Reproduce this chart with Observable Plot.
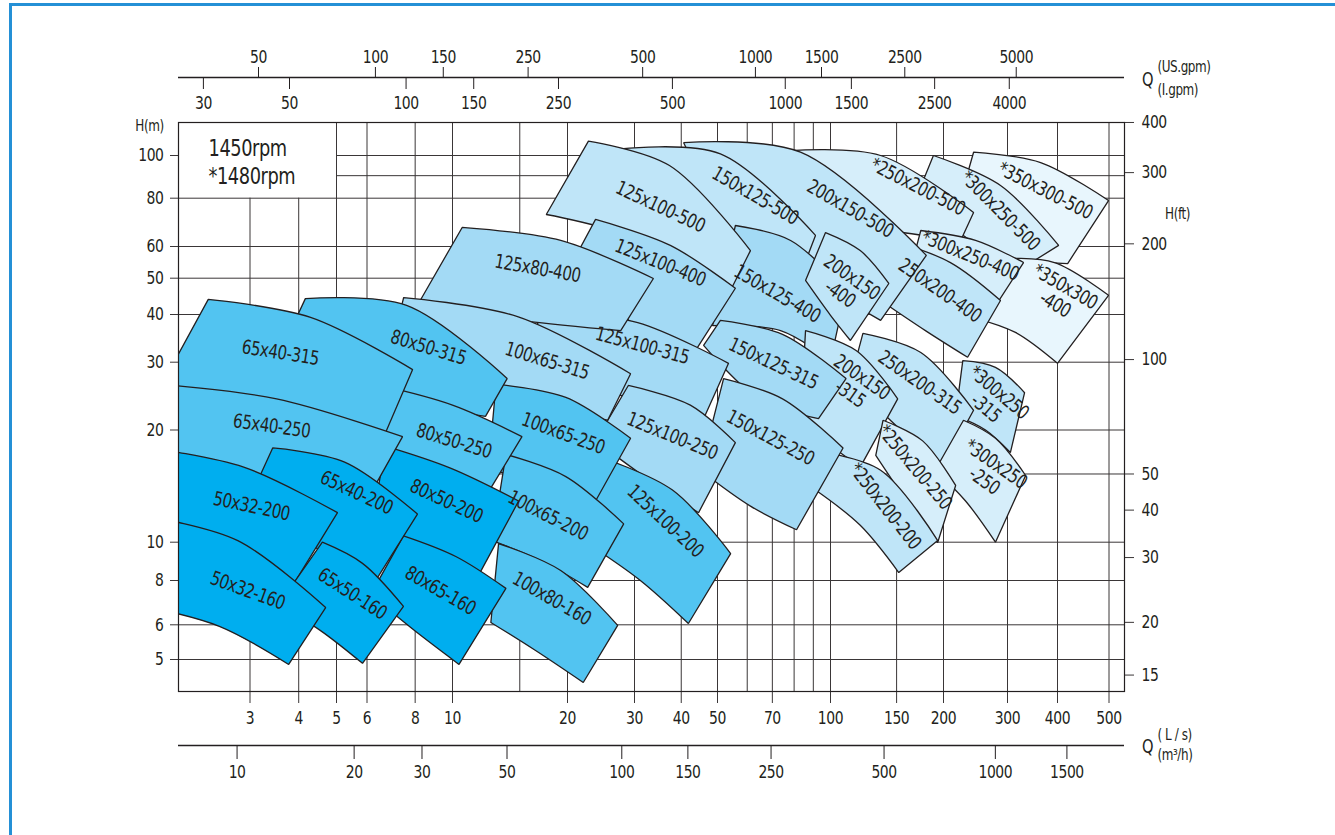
<!DOCTYPE html>
<html><head><meta charset="utf-8">
<script src="https://cdn.jsdelivr.net/npm/d3@7"></script>
<script src="https://cdn.jsdelivr.net/npm/@observablehq/plot@0.6"></script>
<style>
html,body{margin:0;padding:0;background:#fff;overflow:hidden;}
#wrap{position:relative;width:1335px;height:835px;}
#chart{position:absolute;left:0;top:0;}
#border{position:absolute;left:9px;top:3px;width:1400px;height:900px;border:3px solid #2490d6;box-sizing:border-box;pointer-events:none;z-index:2;}
</style></head><body><div id="wrap"><div id="chart"></div><div id="border"></div></div>
<script>
// ---------------- data (Q in L/s, H in m) ----------------
const pumpModels = ["*350x300-500","*300x250-500","*350x300-400","*250x200-500","*300x250-400","250x200-400","200x150-500","*300x250-315","150x125-500","200x150-400","250x200-315","*300x250-250","150x125-400","200x150-315","125x100-500","*250x200-250","150x125-315","125x100-400","*250x200-200","150x125-250","125x100-315","125x80-400","125x100-250","100x65-315","125x100-200","100x65-250","80x50-315","100x65-200","80x50-250","100x80-160","80x50-200","80x65-160","65x40-315","65x40-250","65x40-200","50x32-200","65x50-160","50x32-160"];
const twoLineModels = ["*350x300-400","*300x250-315","200x150-400","*300x250-250","200x150-315"];
const pumpTone = [5,4,5,4,4,3,3,3,3,3,3,4,2,3,3,4,2,2,3,2,2,2,2,2,1,1,1,1,1,1,0,0,1,1,0,0,0,0];
// upper curve, left to right
const pumpTop = [
 [[242,102],[363,96.4],[499,78.9]],
 [[188,100],[287,85.5],[402,60.4]],
 [[287,56.0],[393,54.7],[499,45.0]],
 [[78.3,103],[136,100],[242,73.5]],
 [[174,66.0],[245,62.2],[329,54.7]],
 [[152,61.4],[209,54.7],[287,43.6]],
 [[40.6,108],[83.2,102],[180,57.0]],
 [[226,30.3],[278,29.1],[331,25.0]],
 [[27.6,104],[50.9,101],[91.2,64.1]],
 [[97.0,65.2],[120,58.6],[143,48.4]],
 [[122,35.7],[174,31.8],[242,22.5]],
 [[227,21.2],[278,19.0],[333,15.1]],
 [[55.8,68.0],[78.3,62.2],[110,46.4]],
 [[85.8,36.3],[117,32.2],[151,24.1]],
 [[22.7,109],[37.2,94.9],[61.2,58.6]],
 [[138,21.2],[176,18.7],[216,14.2]],
 [[50.9,38.6],[74.5,35.5],[110,27.2]],
 [[23.7,70.5],[37.4,60.4],[55.8,47.0]],
 [[91.2,17.6],[136,15.6],[193,10.1]],
 [[51.9,27.2],[74.5,24.1],[108,17.9]],
 [[17.5,41.0],[30.6,38.1],[53.5,29.8]],
 [[10.6,67.2],[19.2,62.2],[33.7,49.9]],
 [[28.9,26.1],[42.3,23.2],[55.8,18.5]],
 [[7.47,44.4],[14.8,39.5],[29.3,28.0]],
 [[24.1,17.0],[37.9,13.8],[54.2,9.36]],
 [[13.0,26.3],[19.8,24.3],[29.3,19.0]],
 [[4.16,44.1],[7.60,42.3],[13.9,27.2]],
 [[13.8,17.2],[19.8,15.0],[28.1,11.2]],
 [[6.50,26.1],[10.0,23.2],[15.2,19.2]],
 [[13.2,9.92],[19.2,8.48],[27.1,5.98]],
 [[6.70,18.1],[9.88,15.8],[14.9,12.9]],
 [[7.46,10.4],[10.2,9.20],[13.8,7.60]],
 [[2.34,43.9],[4.29,39.3],[7.88,28.7]],
 [[1.66,26.4],[3.51,24.1],[7.42,19.2]],
 [[3.43,17.9],[5.25,16.4],[8.11,11.9]],
 [[1.66,17.9],[2.89,15.9],[5.03,12.0]],
 [[4.60,10.0],[5.84,8.84],[7.46,6.76]],
 [[1.66,11.7],[2.79,10.1],[4.69,6.71]]
];
// lower curve, right to left
const pumpBottom = [
 [[418,54.4],[305,57.0],[216,72.2]],
 [[314,51.7],[237,62.2],[168,78.9]],
 [[400,29.8],[314,35.9],[245,39.1]],
 [[223,62.2],[145,66.0],[94.1,72.2]],
 [[282,43.1],[216,49.3],[163,52.3]],
 [[233,30.9],[179,36.3],[136,43.6]],
 [[136,38.6],[83.2,50.8],[54.2,62.2]],
 [[305,17.4],[261,20.0],[216,21.8]],
 [[78.3,43.6],[50.9,53.8],[31.1,66.0]],
 [[113,34.2],[100,39.8],[85.8,49.3]],
 [[200,16.1],[154,20.0],[113,26.9]],
 [[278,10.0],[230,12.9],[190,15.6]],
 [[100,30.3],[73.6,36.3],[48.5,37.4]],
 [[120,15.9],[100,18.2],[83.2,21.2]],
 [[52.5,43.6],[31.1,62.2],[17.6,72.6]],
 [[193,9.98],[163,12.5],[132,17.1]],
 [[92.9,21.4],[65.1,23.9],[45.9,33.2]],
 [[43.7,32.2],[29.6,38.1],[20.4,53.8]],
 [[152,8.38],[120,11.1],[91.2,13.8]],
 [[81.2,10.8],[61.2,12.5],[45.0,15.6]],
 [[45.9,21.4],[27.6,24.6],[16.0,35.2]],
 [[27.6,36.3],[15.1,38.6],[8.16,42.8]],
 [[44.5,12.0],[33.1,14.6],[23.7,18.7]],
 [[25.5,21.2],[13.4,25.3],[7.11,36.3]],
 [[41.8,6.05],[31.1,8.0],[23.0,9.81]],
 [[23.6,12.8],[17.0,14.6],[12.4,15.6]],
 [[12.2,21.7],[6.82,25.0],[3.81,36.3]],
 [[22.6,7.65],[17.0,8.99],[12.7,10.1]],
 [[12.4,13.6],[9.31,15.6],[6.50,18.2]],
 [[22.0,4.38],[16.5,5.24],[12.6,6.09]],
 [[11.7,8.24],[8.51,9.26],[6.20,11.4]],
 [[10.4,4.86],[7.97,5.82],[6.13,7.30]],
 [[6.62,19.1],[3.43,23.6],[1.75,25.6]],
 [[6.20,13.8],[3.21,14.8],[1.66,17.1]],
 [[6.20,7.74],[4.36,9.81],[3.10,14.2]],
 [[3.86,7.74],[2.53,10.1],[1.66,11.3]],
 [[5.84,4.89],[4.55,5.82],[3.55,6.84]],
 [[3.77,4.86],[2.50,5.95],[1.66,6.71]]
];
const pumpLabelAt = [
 [373,83.3],[287,74.3],[405,45.0],[171,85.0],[237,57.0],[196,46.4],[113,75.2],[273,23.9],[63.1,81.1],[110,47.8],
 [173,26.6],[269,15.4],[72.2,45.5],[117,26.1],[35.2,76.1],[168,15.9],[70.5,29.8],[35.2,54.7],[140,12.5],[69.2,19.1],
 [31.5,33.2],[16.7,52.9],[37.9,19.3],[17.7,30.3],[36.3,11.4],[19.5,19.6],[8.66,32.8],[17.8,11.8],[10.1,18.7],[18.2,7.12],
 [9.65,12.9],[9.31,7.5],[3.59,31.8],[3.41,20.5],[5.64,13.6],[3.03,12.5],[5.50,7.35],[2.96,7.5]
];
const pumpLabelAngle = [27,45,30,27,22,35,30,40,30,35,35,35,30,35,25,50,25,22,52,28,15,10,22,17,43,20,17,27,17,30,25,30,9,8,25,12,33,20];
// which area lies on top where two overlap: listed from back to front
const paintOrder = ["*350x300-500","*300x250-500","*350x300-400","*250x200-500","*300x250-400","250x200-400","200x150-500","*300x250-315","150x125-500","150x125-400","200x150-400","250x200-315","*300x250-250","200x150-315","125x100-500","*250x200-250","150x125-315","125x100-400","*250x200-200","150x125-250","125x100-315","125x80-400","125x100-250","100x65-315","125x100-200","100x65-250","80x50-315","100x65-200","80x50-250","100x80-160","80x50-200","80x65-160","65x40-315","65x40-250","65x40-200","50x32-200","65x50-160","50x32-160"];

const lsTicks  = [3,4,5,6,8,10,20,30,40,50,70,100,150,200,300,400,500];
const m3hTicks = [10,20,30,50,100,150,250,500,1000,1500];
const usGpmTicks = [50,100,150,250,500,1000,1500,2500,5000];
const iGpmTicks  = [30,50,100,150,250,500,1000,1500,2500,4000];
const hTicks  = [5,6,8,10,20,30,40,50,60,80,100];
const ftTicks = [15,20,30,40,50,100,200,300,400];
const gridQLong  = [5,6,8,10,20,30,40,50,70,100,150,200,300,400,500];
const gridQPlain = [15,60,80,90];
const gridQBelowBox = [3,4];
const gridHFull  = [5,6,8,10,15.24,20,30,40,50,60,80];
const gridHRight = [90,100];
const speedText = ["1450rpm\n*1480rpm"];
const qMin = 1.96, qMax = 545, hMin = 4.16, hMax = 121.9;
const boxQ = 5, boxH = 80;

// unit conversions
const US_GPM = 15.850, I_GPM = 13.198, M3H = 3.6, FT = 0.3048;

// ---------------- styling ----------------
const FONT = "'Liberation Sans Narrow','Arial Narrow','DejaVu Sans Condensed',sans-serif";
const tones = ["#00aeef","#52c4f1","#a3daf5","#bfe5f8","#d6eefa","#e8f6fd"];
const INK = "#231f20", GRID = "#3a3637";
const SQUEEZE = 0.86; // narrow lettering like the printed chart

// scale calibration (the printed grid is not perfectly logarithmic)
const xCalQ  = [qMin, 3, 5, 10, 20, 30, 50, 100, 200, 300, 400, 500, qMax];
const xCalPx = [178, 249.5, 336, 452, 567, 634, 717, 830, 943, 1007, 1057, 1108.5, 1124];
const yCalH  = [hMax, 100, 80, 60, 50, 40, 30, 20, 10, 8, 6, 5, hMin];
const yCalPx = [122, 155, 197.7, 246, 277.7, 314, 361.7, 429.5, 541.7, 580, 624.3, 659, 691];

// outline: catmull-rom along the upper and lower curves, straight sides
function pumpOutline(context) {
  let pts = [];
  return {
    areaStart() {}, areaEnd() {},
    lineStart() { pts = []; },
    point(x, y) { pts.push([+x, +y]); },
    lineEnd() {
      const n = pts.length >> 1;
      const c = d3.curveCatmullRom.alpha(0.5)(context);
      c.areaStart();
      c.lineStart(); pts.slice(0, n).forEach(p => c.point(p[0], p[1])); c.lineEnd();
      c.lineStart(); pts.slice(n).forEach(p => c.point(p[0], p[1])); c.lineEnd();
      c.areaEnd();
    }
  };
}

const outlineRows = [];
paintOrder.forEach(m => {
  const i = pumpModels.indexOf(m);
  for (const [q, h] of pumpTop[i].concat(pumpBottom[i])) outlineRows.push({id: i, q, h, tone: tones[pumpTone[i]]});
});
const labelRows = pumpModels.map((m, i) => ({
  q: pumpLabelAt[i][0], h: pumpLabelAt[i][1], angle: pumpLabelAngle[i],
  text: twoLineModels.includes(m) ? m.replace(/-(\d+)$/, "\n-$1") : m
}));

const T = (data, o) => Plot.text(data, {lineAnchor: "middle", textAnchor: "middle", fill: INK, ...o});

const plot = Plot.plot({
  width: 1335, height: 835,
  marginTop: 122, marginRight: 211, marginBottom: 144, marginLeft: 178,
  x: {type: "log", domain: xCalQ, range: xCalPx, axis: null},
  y: {type: "log", domain: yCalH, range: yCalPx, axis: null},
  color: {type: "identity"},
  style: {fontFamily: FONT, fontSize: "18px", color: INK, background: "transparent", letterSpacing: "-0.5px"},
  marks: [
    // grid
    Plot.ruleX(gridQLong, {x: d => d, stroke: GRID, strokeWidth: 1, insetBottom: -12}),
    Plot.ruleX(gridQPlain, {x: d => d, stroke: GRID, strokeWidth: 1}),
    Plot.ruleX(gridQBelowBox, {x: d => d, y1: boxH, y2: hMin, stroke: GRID, strokeWidth: 1, insetBottom: -12}),
    Plot.ruleY(gridHFull, {y: d => d, stroke: GRID, strokeWidth: 1}),
    Plot.ruleY(gridHRight, {y: d => d, x1: boxQ, x2: qMax, stroke: GRID, strokeWidth: 1}),
    Plot.ruleY(hTicks, {y: d => d, x1: qMin, x2: qMin, insetLeft: -8, stroke: GRID, strokeWidth: 1}),
    Plot.ruleY(ftTicks, {y: d => d * FT, x1: qMax, x2: qMax, insetRight: -10, stroke: GRID, strokeWidth: 1}),
    // pump areas
    Plot.line(outlineRows, {x: "q", y: "h", z: "id", fill: "tone", stroke: INK, strokeWidth: 1.3, strokeLinejoin: "miter", curve: pumpOutline, clip: true}),
    Plot.text(labelRows, {x: "q", y: "h", text: "text", rotate: "angle", fontSize: 19.5, lineHeight: 1.05, fill: INK}),
    Plot.frame({stroke: INK, strokeWidth: 1.2}),
    // speed note
    Plot.text(speedText, {frameAnchor: "top-left", textAnchor: "start", lineAnchor: "top", dx: 30, dy: 14, fontSize: 23, lineHeight: 1.22, fill: INK}),
    // left / right H axes
    T(hTicks, {y: d => d, text: d => String(d), frameAnchor: "left", textAnchor: "end", dx: -15}),
    T(ftTicks, {y: d => d * FT, text: d => String(d), frameAnchor: "right", textAnchor: "start", dx: 17}),
    T(["H(m)"], {frameAnchor: "top-left", dx: -29, dy: 4, fontSize: 15.5}),
    T(["H(ft)"], {frameAnchor: "top-right", dx: 53, dy: 92, fontSize: 15.5}),
    // bottom L/s labels
    T(lsTicks, {x: d => d, text: d => String(d), frameAnchor: "bottom", dy: 27}),
    // bottom m3/h axis
    Plot.ruleY([hMin], {y: d => d, x1: qMin, x2: qMax, dy: 54, stroke: INK, strokeWidth: 1.3}),
    Plot.ruleX(m3hTicks, {x: d => d / M3H, y1: hMin, y2: hMin, insetTop: 54, insetBottom: -68, stroke: INK, strokeWidth: 1}),
    T(m3hTicks, {x: d => d / M3H, text: d => String(d), frameAnchor: "bottom", dy: 81}),
    T(["Q"], {frameAnchor: "bottom-right", dx: 23, dy: 55, fontSize: 19}),
    T(["( L / s)"], {frameAnchor: "bottom-right", textAnchor: "start", dx: 33, dy: 44, fontSize: 15.5}),
    T(["(m\u00b3/h)"], {frameAnchor: "bottom-right", textAnchor: "start", dx: 33, dy: 64, fontSize: 15.5}),
    // top gpm axes
    Plot.ruleY([hMax], {y: d => d, x1: qMin, x2: qMax, dy: -45, stroke: INK, strokeWidth: 1.3}),
    Plot.ruleX(usGpmTicks, {x: d => d / US_GPM, y1: hMax, y2: hMax, insetTop: -55, insetBottom: 45, stroke: INK, strokeWidth: 1}),
    Plot.ruleX(iGpmTicks, {x: d => d / I_GPM, y1: hMax, y2: hMax, insetTop: -45, insetBottom: 33, stroke: INK, strokeWidth: 1}),
    T(usGpmTicks, {x: d => d / US_GPM, text: d => String(d), frameAnchor: "top", dy: -65}),
    T(iGpmTicks, {x: d => d / I_GPM, text: d => String(d), frameAnchor: "top", dy: -19}),
    T(["Q"], {frameAnchor: "top-right", dx: 23, dy: -43, fontSize: 19}),
    T(["(US.gpm)"], {frameAnchor: "top-right", textAnchor: "start", dx: 33, dy: -55, fontSize: 15.5}),
    T(["(I.gpm)"], {frameAnchor: "top-right", textAnchor: "start", dx: 33, dy: -32, fontSize: 15.5})
  ]
});
document.getElementById("chart").appendChild(plot);

// condense every text run horizontally (the printed chart uses a narrow typeface)
plot.querySelectorAll("text").forEach(t => {
  const spans = t.querySelectorAll("tspan");
  (spans.length ? Array.from(spans) : [t]).forEach(el => {
    const w = el.getComputedTextLength();
    if (w > 0) {
      el.setAttribute("textLength", (w * SQUEEZE).toFixed(1));
      el.setAttribute("lengthAdjust", "spacingAndGlyphs");
    }
  });
});
</script>
</body></html>
